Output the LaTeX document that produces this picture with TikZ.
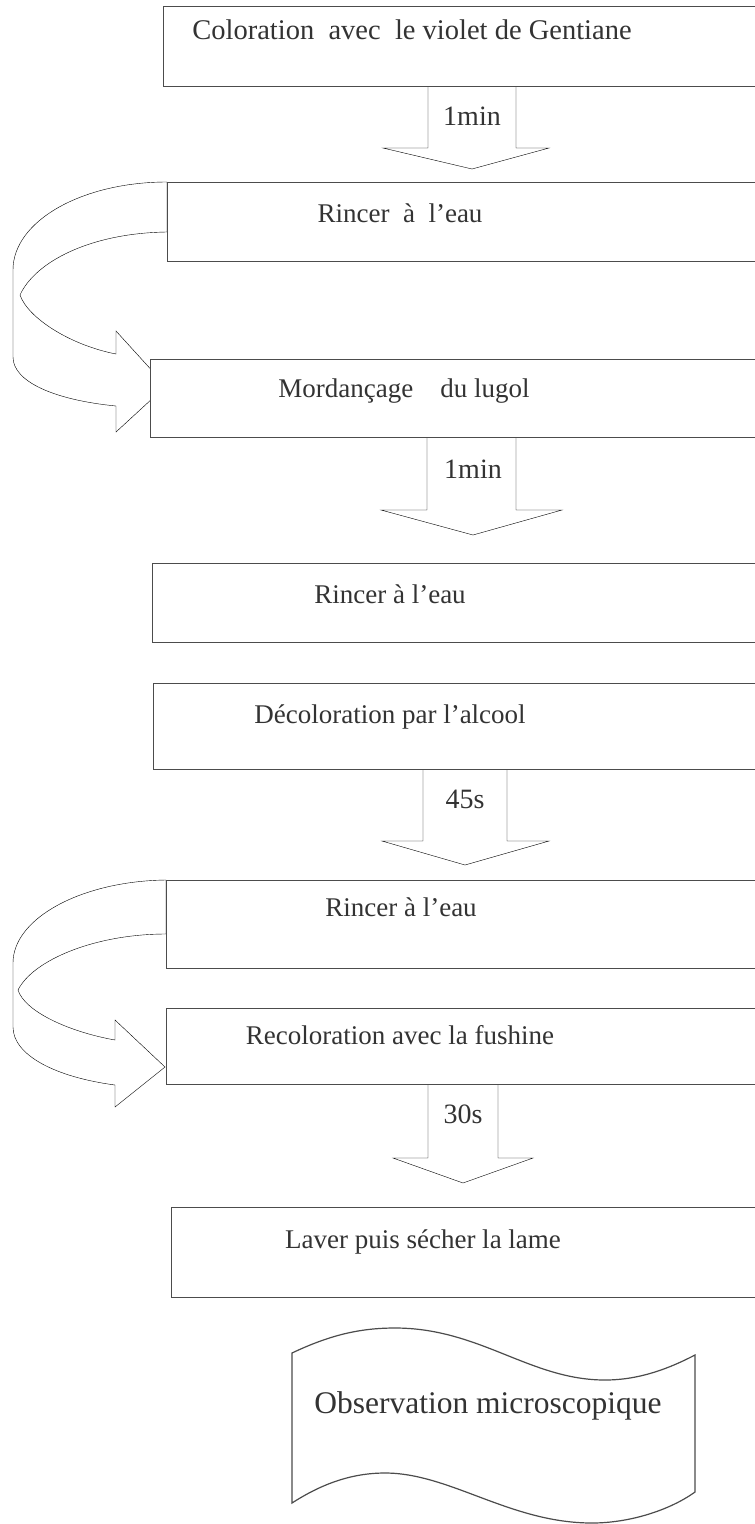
\documentclass[tikz,border=0pt]{standalone}
\usepackage{fontspec}
\setmainfont{Liberation Serif}
\usepackage{tikz}
\usetikzlibrary{arrows,shapes}
\pgfdeclarelayer{background}
\pgfsetlayers{background,main}
\tikzstyle{stepbox}=[rectangle, draw
,fill=white
,anchor=north west
,minimum width=650pt
,inner sep=0pt
]
\tikzstyle{steptext}=[anchor=base, text=black!80, font=\fontsize{27}{32}\selectfont]
\tikzstyle{timetext}=[steptext, font=\fontsize{28}{32}\selectfont]
\tikzstyle{flowarrow}=[draw, fill=white, line join=miter]
\tikzstyle{docshape}=[draw, fill=white]

\begin{document}
\begin{tikzpicture}[x=1pt, y=-1pt, line width=1.2pt, color=black!70]
    \useasboundingbox (0,0) rectangle (755,1524);
    \clip (0,0) rectangle (755,1524);
    % the steps (boxes run out on the right)
    \foreach \pos/\name/\h in {{(163,6)/b1/80}, {(167,182)/b2/79}, {(150,359)/b3/78}, {(152,563)/b4/79}, {(153,683)/b5/86}, {(166,880)/b6/88}, {(166,1008)/b7/76}, {(171,1207)/b8/90}}
        \node[stepbox, minimum height=\h pt] (\name) at \pos {};

    \foreach \pos/\name/\txt in {{(412,39)/t1/\fontsize{28.5}{32}\selectfont Coloration\ \ avec\ \ le violet de Gentiane}, {(400,222)/t2/Rincer\ \ à\ \ l’eau}, {(404,397)/t3/Mordançage\quad du lugol}, {(390,603)/t4/Rincer à l’eau}, {(390,723)/t5/Décoloration par l’alcool}, {(401,916)/t6/Rincer à l’eau}, {(400,1044)/t7/Recoloration avec la fushine}, {(423,1248)/t8/Laver puis sécher la lame}}
        \node[steptext] (\name) at \pos {\txt};

    % times on the arrows
    \foreach \pos/\name/\txt in {{(472,125)/l1/1min}, {(473,478)/l2/1min}, {(465,808)/l3/45s}, {(463,1123)/l4/30s}}
        \node[timetext] (\name) at \pos {\txt};

    % last step
    \draw[docshape] (292,1353) .. controls (330,1335) and (360,1328) .. (395,1328)
        .. controls (480,1328) and (530,1380) .. (605,1380)
        .. controls (640,1380) and (670,1368) .. (695,1355) -- (695,1492)
        .. controls (670,1510) and (630,1523) .. (592,1523)
        .. controls (510,1523) and (450,1473) .. (385,1473)
        .. controls (350,1473) and (320,1485) .. (292,1503) -- cycle;
    \node[steptext, font=\fontsize{31.5}{36}\selectfont] (obs) at (488,1413) {Observation microscopique};

    \begin{pgfonlayer}{background}
    % straight arrows
    \foreach \src/\lab/\xl/\xr/\wl/\wr/\yb/\yt in {b1/l1/428/516/383/549/148/169, b3/l2/427/516/381/562/510/535, b5/l3/423/507/382/549/841/865, b7/l4/428/498/393/533/1158/1183}
        \path[flowarrow] (\xl,0 |- \src.south) -- (\xl,\yb) -- (\wl,\yb) -- (\lab |- 0,\yt) -- (\wr,\yb) -- (\xr,\yb) -- (\xr,0 |- \src.south);

    % curved arrows
    \path[flowarrow] (b2.north west) .. controls (82,182) and (13,221) .. (13,270) -- (13,357)
        .. controls (13,382) and (55,400) .. (116,406) -- (116,432) -- (166,386) -- (116,331) -- (116,354)
        .. controls (70,345) and (28,318) .. (20,295)
        .. controls (35,262) and (90,233) .. (b2.west |- 0,232) -- cycle;
    \path[flowarrow] (b6.north west) .. controls (82,881) and (13,918) .. (13,963) -- (13,1027)
        .. controls (13,1055) and (55,1077) .. (115,1085) -- (115,1107) -- (165,1067) -- (115,1020) -- (115,1040)
        .. controls (70,1032) and (25,1012) .. (18,990)
        .. controls (33,960) and (95,934) .. (b6.west |- 0,934) -- cycle;
    \end{pgfonlayer}
\end{tikzpicture}
\end{document}
